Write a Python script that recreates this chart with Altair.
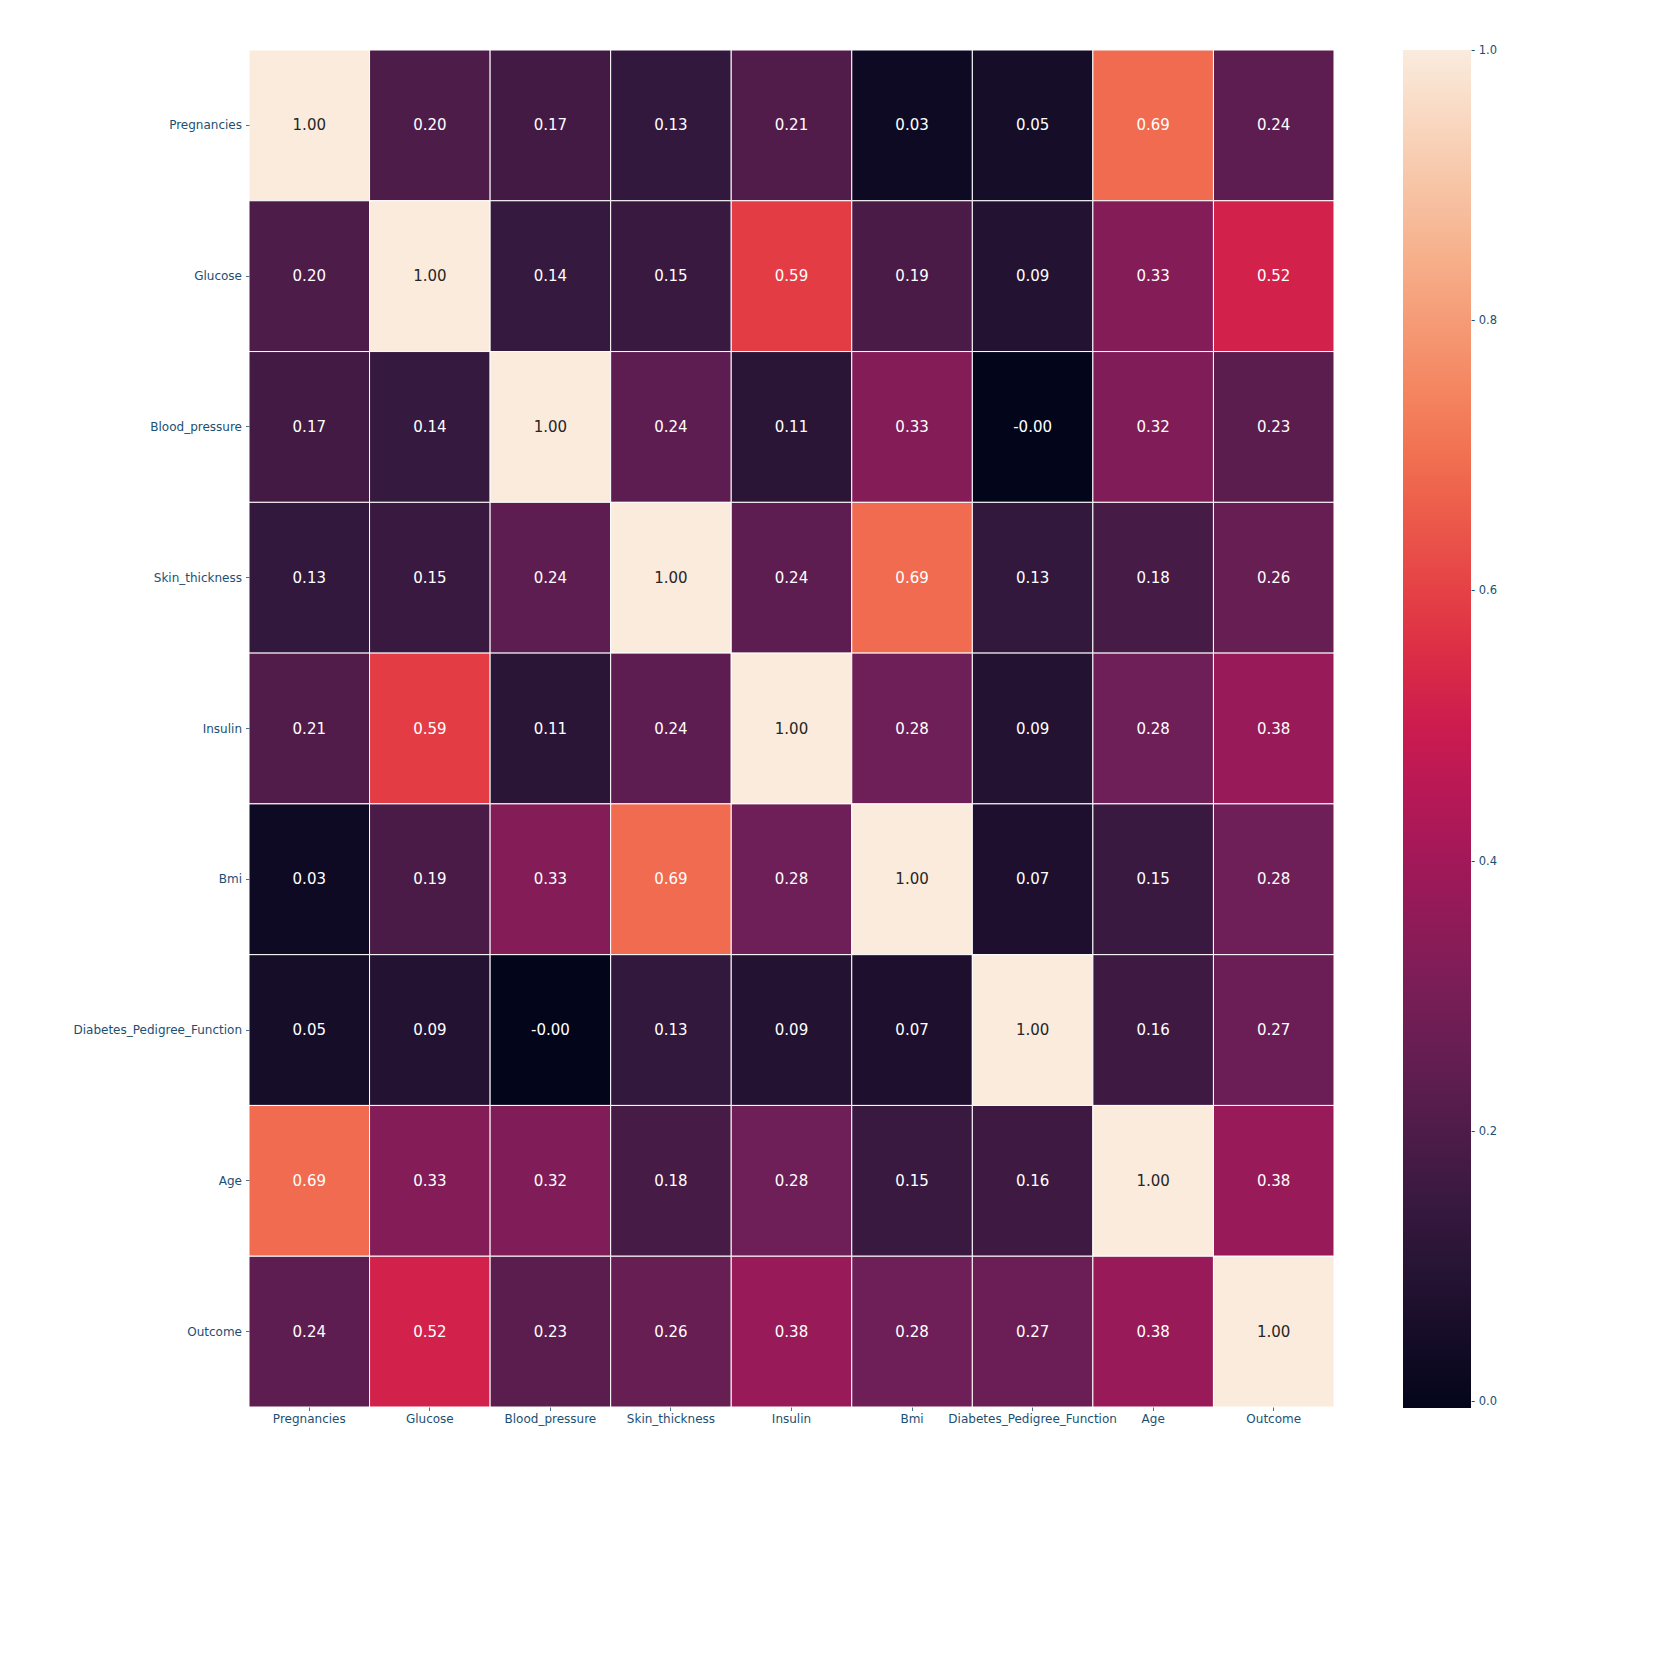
import altair as alt
import pandas as pd

labels = ["Pregnancies", "Glucose", "Blood_pressure", "Skin_thickness", "Insulin",
          "Bmi", "Diabetes_Pedigree_Function", "Age", "Outcome"]

corr = [
    [1.00, 0.20, 0.17, 0.13, 0.21, 0.03, 0.05, 0.69, 0.24],
    [0.20, 1.00, 0.14, 0.15, 0.59, 0.19, 0.09, 0.33, 0.52],
    [0.17, 0.14, 1.00, 0.24, 0.11, 0.33, -0.0045, 0.32, 0.23],
    [0.13, 0.15, 0.24, 1.00, 0.24, 0.69, 0.13, 0.18, 0.26],
    [0.21, 0.59, 0.11, 0.24, 1.00, 0.28, 0.09, 0.28, 0.38],
    [0.03, 0.19, 0.33, 0.69, 0.28, 1.00, 0.07, 0.15, 0.28],
    [0.05, 0.09, -0.0045, 0.13, 0.09, 0.07, 1.00, 0.16, 0.27],
    [0.69, 0.33, 0.32, 0.18, 0.28, 0.15, 0.16, 1.00, 0.38],
    [0.24, 0.52, 0.23, 0.26, 0.38, 0.28, 0.27, 0.38, 1.00],
]

colorbar_ticks = [0.0, 0.2, 0.4, 0.6, 0.8, 1.0]

vmin = min(min(r) for r in corr)
vmax = 1.0008
rocket_pos = [0, 1 / 7, 2 / 7, 3 / 7, 0.5, 4 / 7, 5 / 7, 6 / 7, 1]
rocket_colors = ["#03051a", "#35193e", "#701f57", "#ad1759", "#cb1b4f",
                 "#e13342", "#f37651", "#f6b48f", "#faebdd"]
rocket_stops = [vmin + p * (vmax - vmin) for p in rocket_pos]

rows = []
for i, r in enumerate(labels):
    for j, c in enumerate(labels):
        v = corr[i][j]
        rows.append({"row": r, "col": c, "value": v, "label": f"{v:.2f}"})
df = pd.DataFrame(rows)

label_color = "#1b4f72"

x = alt.X("col:N", sort=labels, title=None,
          scale=alt.Scale(paddingInner=0, paddingOuter=0),
          axis=alt.Axis(labelAngle=0, labelOverlap=False, labelBound=False,
                        labelLimit=300, labelFontSize=12, labelFont="DejaVu Sans",
                        labelColor=label_color, tickColor=label_color, tickSize=3.5,
                        tickWidth=0.8, labelPadding=3, domain=False, grid=False))
y = alt.Y("row:N", sort=labels, title=None,
          scale=alt.Scale(paddingInner=0, paddingOuter=0),
          axis=alt.Axis(labelOverlap=False, labelLimit=300, labelFontSize=12,
                        labelFont="DejaVu Sans", labelColor=label_color,
                        tickColor=label_color, tickSize=3.5, tickWidth=0.8,
                        labelPadding=4, domain=False, grid=False))

base = alt.Chart(df)

rect = base.mark_rect(stroke="white", strokeWidth=1).encode(
    x=x, y=y,
    color=alt.Color("value:Q",
                    scale=alt.Scale(domain=rocket_stops, range=rocket_colors,
                                    interpolate="rgb", clamp=True),
                    legend=alt.Legend(title=None, orient="none", legendX=1154, legendY=0,
                                      direction="vertical", gradientLength=1358,
                                      gradientThickness=68, gradientStrokeWidth=0,
                                      values=colorbar_ticks, format=".1f",
                                      labelExpr="'- ' + datum.label",
                                      labelOffset=0, labelFontSize=11.5,
                                      labelBaseline="middle", labelOverlap=False,
                                      labelFont="DejaVu Sans", labelColor=label_color)),
)

text = base.mark_text(fontSize=15, font="DejaVu Sans").encode(
    x=x, y=y,
    text="label:N",
    color=alt.condition(alt.datum.value > 0.9, alt.value("#262626"), alt.value("white")),
)

chart = alt.layer(rect, text).properties(
    width=1085, height=1357,
    padding={"left": 249, "top": 50, "right": 322, "bottom": 249},
    autosize=alt.AutoSizeParams(type="none"),
).configure_view(stroke=None)

chart.save("out.html", embed_options={"renderer": "svg", "actions": False})
